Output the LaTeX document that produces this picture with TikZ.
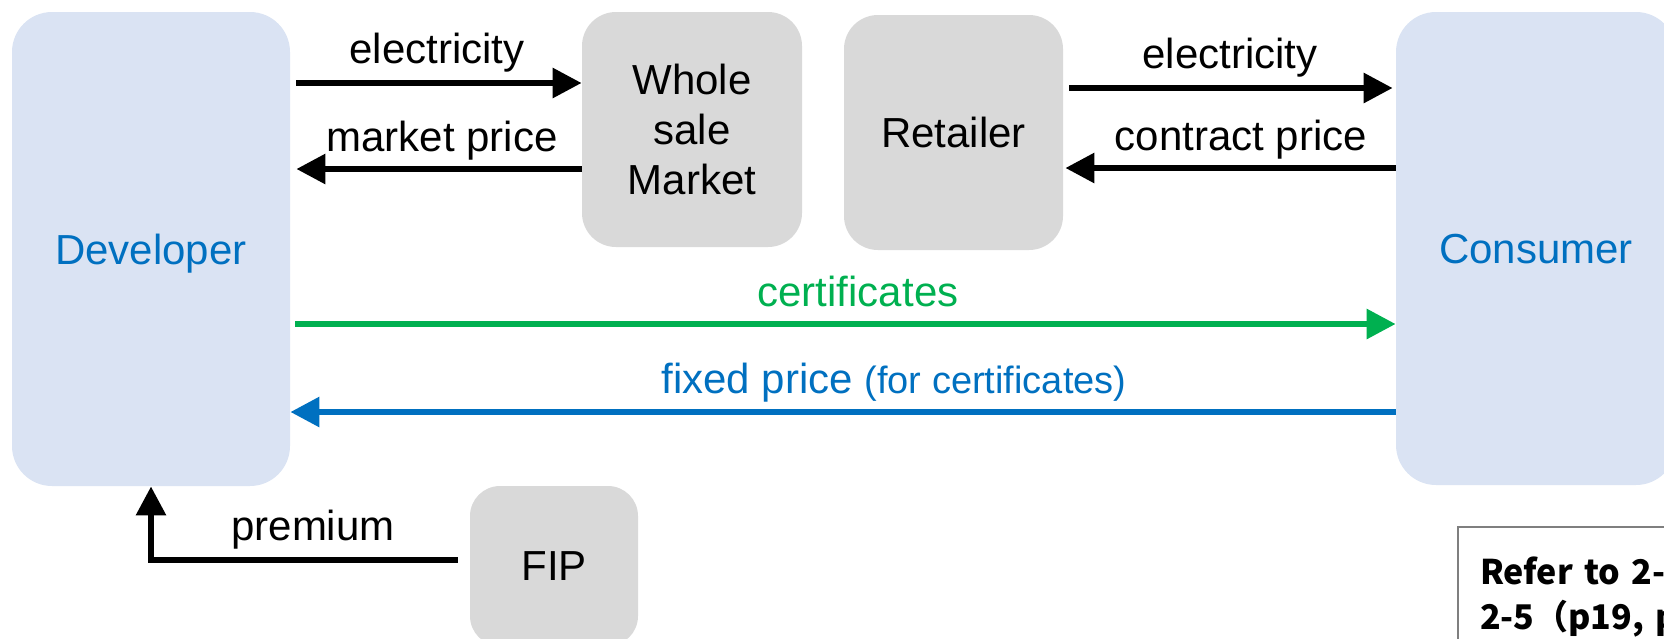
\documentclass[tikz,border=0pt]{standalone}
\usepackage{fontspec}
\setmainfont{Liberation Sans}
\newfontfamily\jpfont{Noto Sans CJK JP}
\usetikzlibrary{arrows.meta}
\definecolor{partyblue}{HTML}{DAE3F3}
\definecolor{boxgray}{HTML}{D9D9D9}
\definecolor{txtblue}{HTML}{0070C0}
\definecolor{certgreen}{HTML}{00B050}
\definecolor{notegray}{HTML}{7F7F7F}
\begin{document}
\begin{tikzpicture}[x=0.5pt,y=-0.5pt,font=\fontsize{21}{25}\selectfont,
  party/.style={fill=partyblue,rounded corners=20pt,inner sep=0pt,text=txtblue,text depth=0pt},
  agent/.style={fill=boxgray,rounded corners=17pt,inner sep=0pt,align=center},
  flow/.style={line width=3pt,-{Triangle[length=14.5pt,width=14.5pt]}},
  lbl/.style={anchor=base,inner sep=0pt}]
\useasboundingbox (0,0) rectangle (1664,638);
\clip (0,0) rectangle (1664,638);
\node[party,minimum width=139pt,minimum height=237pt] (dev) at (151,249) {Developer};
\node[party,minimum width=140pt,minimum height=236.5pt] (cons) at (1536,248.5) {Consumer};
\node[agent,minimum width=110pt,minimum height=117.5pt] (whole) at (692,129.5) {Whole\\sale\\Market};
\node[agent,minimum width=109.5pt,minimum height=117.5pt] (ret) at (953.5,132.5) {Retailer};
\node[agent,rounded corners=15pt,minimum width=84pt,minimum height=80pt] (fip) at (554,566) {FIP};
\node[draw=notegray,line width=1pt,anchor=north west,align=left,text width=130pt,inner xsep=11pt,inner ysep=14.5pt,
  minimum height=70pt,font=\jpfont\bfseries\fontsize{17}{22.5}\selectfont]
  (ref) at (1457,526) {Refer to 2-\\2-5（p19, p};
\draw[flow,shorten <=3pt] (dev.east |- 0,83) -- (whole.west |- 0,83);
\draw[flow,shorten >=3pt] (whole.west |- 0,169) -- (dev.east |- 0,169);
\draw[flow,shorten <=3pt,shorten >=1.5pt] (ret.east |- 0,88) -- (cons.west |- 0,88);
\draw[flow,shorten >=1pt] (cons.west |- 0,168) -- (ret.east |- 0,168);
\draw[flow,certgreen,shorten <=2.5pt] (dev.east |- 0,324) -- (cons.west |- 0,324);
\draw[flow,txtblue] (cons.west |- 0,412) -- (dev.east |- 0,412);
\draw[flow,shorten <=6pt] (fip.west |- 0,560) -- (dev.south |- 0,560) -- (dev.south);
\node[lbl] (lelec) at (437,63) {electricity};
\node[lbl] (lmkt) at (442,151) {market price};
\node[lbl] (relec) at (1230,68) {electricity};
\node[lbl] (rcon) at (1241,150) {contract price};
\node[lbl,text=certgreen] (lcert) at (858,306) {certificates};
\node[lbl,text=txtblue] (lfix) at (894,393) {fixed price {\fontsize{19}{21}\selectfont(for certificates)}};
\node[lbl] (lprem) at (313,540) {premium};
\end{tikzpicture}
\end{document}
